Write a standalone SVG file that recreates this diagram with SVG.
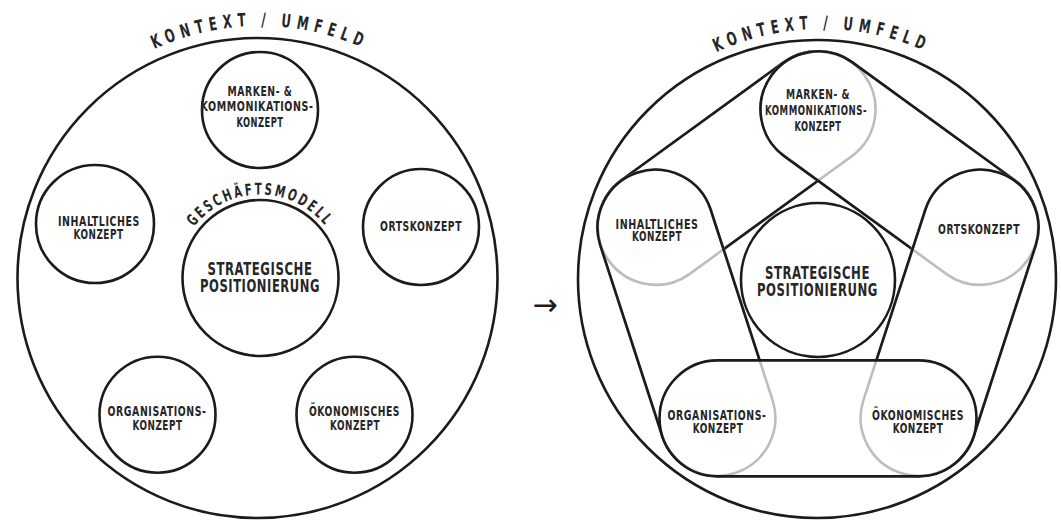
<svg xmlns="http://www.w3.org/2000/svg" xmlns:xlink="http://www.w3.org/1999/xlink" width="1061" height="520" viewBox="0 0 1061 520">
<style>
.ln{fill:none;stroke:#1b1b1b;stroke-width:2.6}
.gr{fill:none;stroke:#bdbdbd;stroke-width:2.6}
.lb{font-family:"DejaVu Sans Condensed","DejaVu Sans","Liberation Sans",sans-serif;font-stretch:condensed;font-weight:700;font-size:14.6px;fill:#262626;text-anchor:middle;letter-spacing:0.8px}
.big{font-size:18.5px}
.arc{font-family:"DejaVu Sans Condensed","DejaVu Sans","Liberation Sans",sans-serif;font-stretch:condensed;font-weight:700;fill:#262626;text-anchor:middle}
.arrow{font-family:"DejaVu Sans",sans-serif;font-size:30px;fill:#1b1b1b;text-anchor:middle}
</style>
<defs>
<path id="aL" d="M 8 278 A 252 252 0 0 1 512 278"/>
<path id="aR" d="M 571 280 A 251 251 0 0 1 1073 280"/>
<path id="aG" d="M 176.5 278 A 83.5 83.5 0 0 1 343.5 278"/>
<path id="cMI" d="M 621.28 180.24 L 783.91 62.08 A 58 58 0 0 1 852.09 155.92 L 689.46 274.08 A 58 58 0 0 1 621.28 180.24 Z"/>
<path id="cMO" d="M 852.09 62.08 L 1014.72 180.24 A 58 58 0 0 1 946.54 274.08 L 783.91 155.92 A 58 58 0 0 1 852.09 62.08 Z"/>
<path id="cIG" d="M 662.33 436.26 L 600.21 245.08 A 58 58 0 0 1 710.53 209.24 L 772.65 400.42 A 58 58 0 0 1 662.33 436.26 Z"/>
<path id="cKO" d="M 1035.79 245.08 L 973.67 436.26 A 58 58 0 0 1 863.35 400.42 L 925.47 209.24 A 58 58 0 0 1 1035.79 245.08 Z"/>
<path id="cGK" d="M 918.51 476.34 L 717.49 476.34 A 58 58 0 0 1 717.49 360.34 L 918.51 360.34 A 58 58 0 0 1 918.51 476.34 Z"/>
<mask id="mMI" maskUnits="userSpaceOnUse" x="0" y="0" width="1061" height="520">
<rect width="1061" height="520" fill="#fff"/>
<use xlink:href="#cMO" fill="#000"/><use xlink:href="#cIG" fill="#000"/><use xlink:href="#cKO" fill="#000"/><use xlink:href="#cGK" fill="#000"/>
</mask>
<mask id="mMO" maskUnits="userSpaceOnUse" x="0" y="0" width="1061" height="520">
<rect width="1061" height="520" fill="#fff"/>
<use xlink:href="#cKO" fill="#000"/><use xlink:href="#cGK" fill="#000"/>
</mask>
<mask id="mIG" maskUnits="userSpaceOnUse" x="0" y="0" width="1061" height="520">
<rect width="1061" height="520" fill="#fff"/>
<use xlink:href="#cGK" fill="#000"/>
</mask>
<mask id="mKO" maskUnits="userSpaceOnUse" x="0" y="0" width="1061" height="520">
<rect width="1061" height="520" fill="#fff"/>
<use xlink:href="#cGK" fill="#000"/>
</mask>
</defs>
<rect width="1061" height="520" fill="#fff"/>

<!-- LEFT DIAGRAM -->
<g id="left-context">
<circle class="ln" cx="257.5" cy="278" r="240"/>
<text class="arc" font-size="18.5" letter-spacing="8"><textPath xlink:href="#aL" startOffset="50%" textLength="218" lengthAdjust="spacingAndGlyphs">KONTEXT / UMFELD</textPath></text>
</g>
<g id="left-strategie">
<circle class="ln" cx="260.5" cy="278" r="78"/>
<text class="arc" font-size="16" letter-spacing="3.5"><textPath xlink:href="#aG" startOffset="50%" textLength="152" lengthAdjust="spacingAndGlyphs">GESCHÄFTSMODELL</textPath></text>
<text class="lb big" x="260" y="274.5" textLength="105" lengthAdjust="spacingAndGlyphs">STRATEGISCHE</text>
<text class="lb big" x="260" y="291.5" textLength="120" lengthAdjust="spacingAndGlyphs">POSITIONIERUNG</text>
</g>
<g id="left-marken">
<circle class="ln" cx="260" cy="110" r="58"/>
<text class="lb" x="260" y="96" textLength="65" lengthAdjust="spacingAndGlyphs">MARKEN- &amp;</text>
<text class="lb" x="257" y="111" textLength="113" lengthAdjust="spacingAndGlyphs">KOMMONIKATIONS-</text>
<text class="lb" x="260" y="126.5" textLength="47" lengthAdjust="spacingAndGlyphs">KONZEPT</text>
</g>
<g id="left-inhalt">
<circle class="ln" cx="95" cy="224" r="59"/>
<text class="lb" x="99" y="226" textLength="82" lengthAdjust="spacingAndGlyphs">INHALTLICHES</text>
<text class="lb" x="98.5" y="238.5" textLength="50" lengthAdjust="spacingAndGlyphs">KONZEPT</text>
</g>
<g id="left-orts">
<circle class="ln" cx="421" cy="227" r="58"/>
<text class="lb" x="421" y="230.5" textLength="82" lengthAdjust="spacingAndGlyphs">ORTSKONZEPT</text>
</g>
<g id="left-organisation">
<circle class="ln" cx="157.5" cy="414.7" r="58"/>
<text class="lb" x="157" y="416" textLength="99" lengthAdjust="spacingAndGlyphs">ORGANISATIONS-</text>
<text class="lb" x="157.5" y="430" textLength="50" lengthAdjust="spacingAndGlyphs">KONZEPT</text>
</g>
<g id="left-oekonomie">
<circle class="ln" cx="354.5" cy="414.7" r="58"/>
<text class="lb" x="354.5" y="416" textLength="91" lengthAdjust="spacingAndGlyphs">ÖKONOMISCHES</text>
<text class="lb" x="355" y="430" textLength="50" lengthAdjust="spacingAndGlyphs">KONZEPT</text>
</g>

<g id="arrow"><text class="arrow" x="545" y="315">→</text></g>

<!-- RIGHT DIAGRAM -->
<g id="right-context">
<circle class="ln" cx="817" cy="279" r="239"/>
<text class="arc" font-size="18.5" letter-spacing="8"><textPath xlink:href="#aR" startOffset="50%" textLength="218" lengthAdjust="spacingAndGlyphs">KONTEXT / UMFELD</textPath></text>
</g>
<g id="connectors">
<use xlink:href="#cMI" class="gr"/><use xlink:href="#cMI" class="ln" mask="url(#mMI)"/>
<use xlink:href="#cMO" class="gr"/><use xlink:href="#cMO" class="ln" mask="url(#mMO)"/>
<use xlink:href="#cIG" class="gr"/><use xlink:href="#cIG" class="ln" mask="url(#mIG)"/>
<use xlink:href="#cKO" class="gr"/><use xlink:href="#cKO" class="ln" mask="url(#mKO)"/>
<use xlink:href="#cGK" class="ln"/>
</g>
<g id="right-strategie">
<circle class="ln" cx="818" cy="280" r="77"/>
<text class="lb big" x="817.5" y="279" textLength="105" lengthAdjust="spacingAndGlyphs">STRATEGISCHE</text>
<text class="lb big" x="817.5" y="295.7" textLength="121" lengthAdjust="spacingAndGlyphs">POSITIONIERUNG</text>
</g>
<g id="right-marken">
<text class="lb" x="818" y="99" textLength="64" lengthAdjust="spacingAndGlyphs">MARKEN- &amp;</text>
<text class="lb" x="816" y="115" textLength="102" lengthAdjust="spacingAndGlyphs">KOMMONIKATIONS-</text>
<text class="lb" x="818" y="130.5" textLength="47" lengthAdjust="spacingAndGlyphs">KONZEPT</text>
</g>
<g id="right-inhalt">
<text class="lb" x="657" y="228.5" textLength="83" lengthAdjust="spacingAndGlyphs">INHALTLICHES</text>
<text class="lb" x="657" y="241" textLength="50" lengthAdjust="spacingAndGlyphs">KONZEPT</text>
</g>
<g id="right-orts">
<text class="lb" x="979" y="234" textLength="82" lengthAdjust="spacingAndGlyphs">ORTSKONZEPT</text>
</g>
<g id="right-organisation">
<text class="lb" x="717" y="420" textLength="99" lengthAdjust="spacingAndGlyphs">ORGANISATIONS-</text>
<text class="lb" x="718" y="432.7" textLength="50.7" lengthAdjust="spacingAndGlyphs">KONZEPT</text>
</g>
<g id="right-oekonomie">
<text class="lb" x="918" y="420" textLength="92" lengthAdjust="spacingAndGlyphs">ÖKONOMISCHES</text>
<text class="lb" x="918" y="432.7" textLength="50.7" lengthAdjust="spacingAndGlyphs">KONZEPT</text>
</g>
</svg>
